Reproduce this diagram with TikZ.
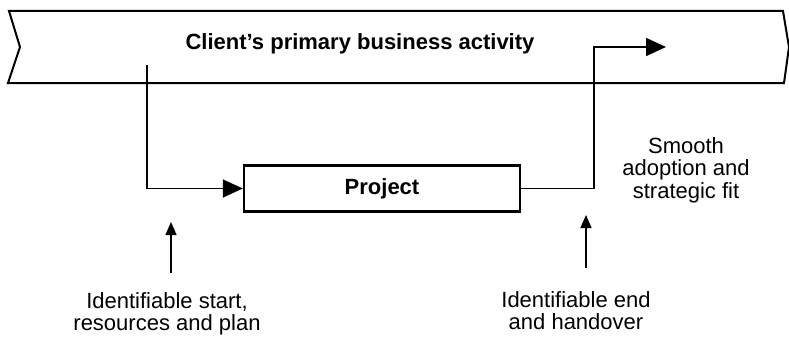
\documentclass[tikz,border=0pt]{standalone}
\usepackage{fontspec}
\setmainfont{Liberation Sans}
\usetikzlibrary{arrows.meta}

\begin{document}
\begin{tikzpicture}[x=1pt,y=-1pt,every text node part/.style={align=center},
every node/.style={font=\fontsize{22}{22.5}\selectfont, inner sep=0pt},
banner/.style={line width=2pt, line join=miter},
stage/.style={draw, line width=2.4pt, minimum width=276pt, minimum height=46pt},
flow/.style={line width=1.7pt, -{Triangle[length=20pt,width=18pt]}},
pointer/.style={line width=1.5pt, -{Triangle[length=13pt,width=11pt]}}]
\useasboundingbox (0,0) rectangle (789,337);
\draw[banner] (9,11) -- (783,11) -- (789,47) -- (784,83) -- (8,83) -- (20,47) -- cycle;
\node [anchor=base] (activity) at (360,49) {\bfseries Client's primary business activity};
\node [stage] (project) at (382,188.5) {\bfseries Project};
\coordinate (leave) at (147,65);
\coordinate (rejoin) at (666,47);
\draw [flow] (leave) |- (project.west);
\draw [flow] (project.east) -- (594,188.5) |- (rejoin);
\node [anchor=north] (start) at (167,292) {Identifiable start,\\resources and plan};
\node [anchor=north] (handover) at (576,291) {Identifiable end\\and handover};
\node [anchor=north] (fit) at (686,137) {Smooth\\adoption and\\strategic fit};
\coordinate (starttail) at (171,273);
\coordinate (starttip) at (171,222);
\coordinate (endtail) at (586,268);
\coordinate (endtip) at (586,215);
\draw [pointer] (starttail) -- (starttip);
\draw [pointer] (endtail) -- (endtip);
\end{tikzpicture}
\end{document}
